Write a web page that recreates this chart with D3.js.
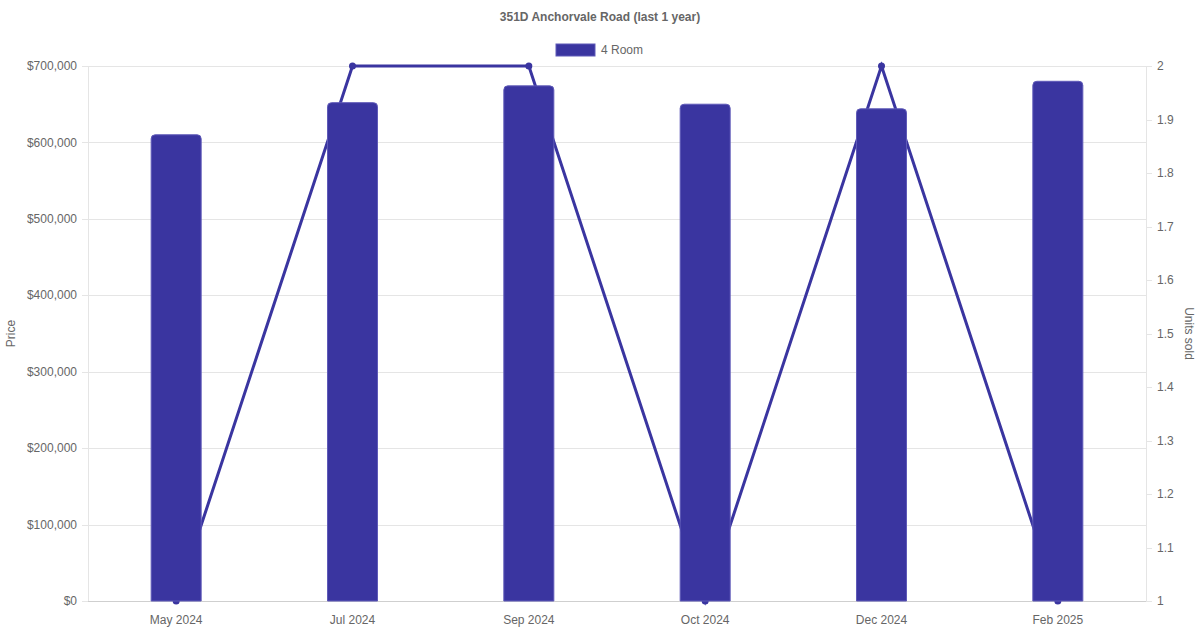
<!DOCTYPE html>
<html><head><meta charset="utf-8">
<script src="https://cdn.jsdelivr.net/npm/d3@7"></script>
<style>
body{margin:0;background:#fff;}
svg{display:block;font-family:"Liberation Sans",Arial,Helvetica,sans-serif;}
</style></head>
<body>
<svg id="c" width="1200" height="630"></svg>
<script>
const categories = ["May 2024","Jul 2024","Sep 2024","Oct 2024","Dec 2024","Feb 2025"];
const prices = [610000, 652000, 674000, 650000, 644000, 680000];
const unitsSold = [1, 2, 2, 1, 2, 1];
const priceTicks = [0,100000,200000,300000,400000,500000,600000,700000];
const unitTicks = [1,1.1,1.2,1.3,1.4,1.5,1.6,1.7,1.8,1.9,2];
const seriesName = "4 Room";
const titleText = "351D Anchorvale Road (last 1 year)";

const color = "#3a35a0";
const svg = d3.select("#c");
const pL = 88, pR = 1146, pT = 66, pB = 601;

const x = d3.scaleBand().domain(categories).range([pL, pR]);
const yL = d3.scaleLinear().domain([0, 700000]).range([pB, pT]);
const yR = d3.scaleLinear().domain([1, 2]).range([pB, pT]);
const cr = v => Math.round(v) + 0.5;

// gridlines
svg.append("g").selectAll("line").data(priceTicks).join("line")
  .attr("x1", pL - 6).attr("x2", pR)
  .attr("y1", d => cr(yL(d))).attr("y2", d => cr(yL(d)))
  .attr("stroke", "#e5e5e5").attr("stroke-width", 1);

// axis borders
svg.append("line").attr("x1", cr(pL)).attr("x2", cr(pL)).attr("y1", pT).attr("y2", pB)
  .attr("stroke", "#e5e5e5");
svg.append("line").attr("x1", cr(pR)).attr("x2", cr(pR)).attr("y1", pT).attr("y2", pB)
  .attr("stroke", "#e5e5e5");
svg.append("line").attr("x1", pL).attr("x2", pR).attr("y1", cr(pB)).attr("y2", cr(pB))
  .attr("stroke", "#cfcfcf");

// right ticks
svg.append("g").selectAll("line").data(unitTicks).join("line")
  .attr("x1", pR).attr("x2", pR + 6)
  .attr("y1", d => cr(yR(d))).attr("y2", d => cr(yR(d)))
  .attr("stroke", "#e5e5e5");

// left tick labels
svg.append("g").selectAll("text").data(priceTicks).join("text")
  .attr("x", pL - 11).attr("y", d => yL(d)).attr("dy", "0.35em")
  .attr("text-anchor", "end").attr("font-size", 12).attr("fill", "#666")
  .text(d => "$" + d3.format(",")(d));

// right tick labels
svg.append("g").selectAll("text").data(unitTicks).join("text")
  .attr("x", pR + 11).attr("y", d => yR(d)).attr("dy", "0.35em")
  .attr("text-anchor", "start").attr("font-size", 12).attr("fill", "#666")
  .text(d => d3.format("~g")(d));

// x labels
svg.append("g").selectAll("text").data(categories).join("text")
  .attr("x", d => x(d) + x.bandwidth() / 2).attr("y", 624)
  .attr("text-anchor", "middle").attr("font-size", 12).attr("fill", "#666")
  .text(d => d);

// axis titles
svg.append("text").attr("transform", `translate(15,${(pT+pB)/2}) rotate(-90)`)
  .attr("text-anchor", "middle").attr("font-size", 12).attr("fill", "#666").text("Price");
svg.append("text").attr("transform", `translate(1185,${(pT+pB)/2}) rotate(90)`)
  .attr("text-anchor", "middle").attr("font-size", 12).attr("fill", "#666").text("Units sold");

// line (behind bars)
const line = d3.line().x((d, i) => x(categories[i]) + x.bandwidth() / 2).y(d => yR(d));
svg.append("path").datum(unitsSold).attr("d", line)
  .attr("fill", "none").attr("stroke", color).attr("stroke-width", 3)
  .attr("stroke-linejoin", "miter");
svg.append("g").selectAll("circle").data(unitsSold).join("circle")
  .attr("cx", (d, i) => x(categories[i]) + x.bandwidth() / 2)
  .attr("cy", d => yR(d)).attr("r", 3.5).attr("fill", color);

// bars with rounded tops
const bw = 50, r = 4;
svg.append("g").selectAll("path").data(prices).join("path")
  .attr("d", (d, i) => {
    const cx = x(categories[i]) + x.bandwidth() / 2;
    const x0 = cx - bw / 2, x1 = cx + bw / 2, y0 = yL(d), y1 = yL(0);
    return `M${x0},${y1}V${y0 + r}Q${x0},${y0} ${x0 + r},${y0}H${x1 - r}Q${x1},${y0} ${x1},${y0 + r}V${y1}Z`;
  })
  .attr("fill", color).attr("stroke", "#5f5ab8").attr("stroke-width", 1);

// title
svg.append("text").attr("x", 600).attr("y", 21).attr("text-anchor", "middle")
  .attr("font-size", 12).attr("font-weight", "bold").attr("fill", "#666").text(titleText);

// legend
svg.append("rect").attr("x", 556).attr("y", 44).attr("width", 39).attr("height", 12)
  .attr("fill", color).attr("stroke", "#5f5ab8").attr("stroke-width", 1);
svg.append("text").attr("x", 601).attr("y", 54).attr("font-size", 12).attr("fill", "#666").text(seriesName);
</script>
</body></html>
